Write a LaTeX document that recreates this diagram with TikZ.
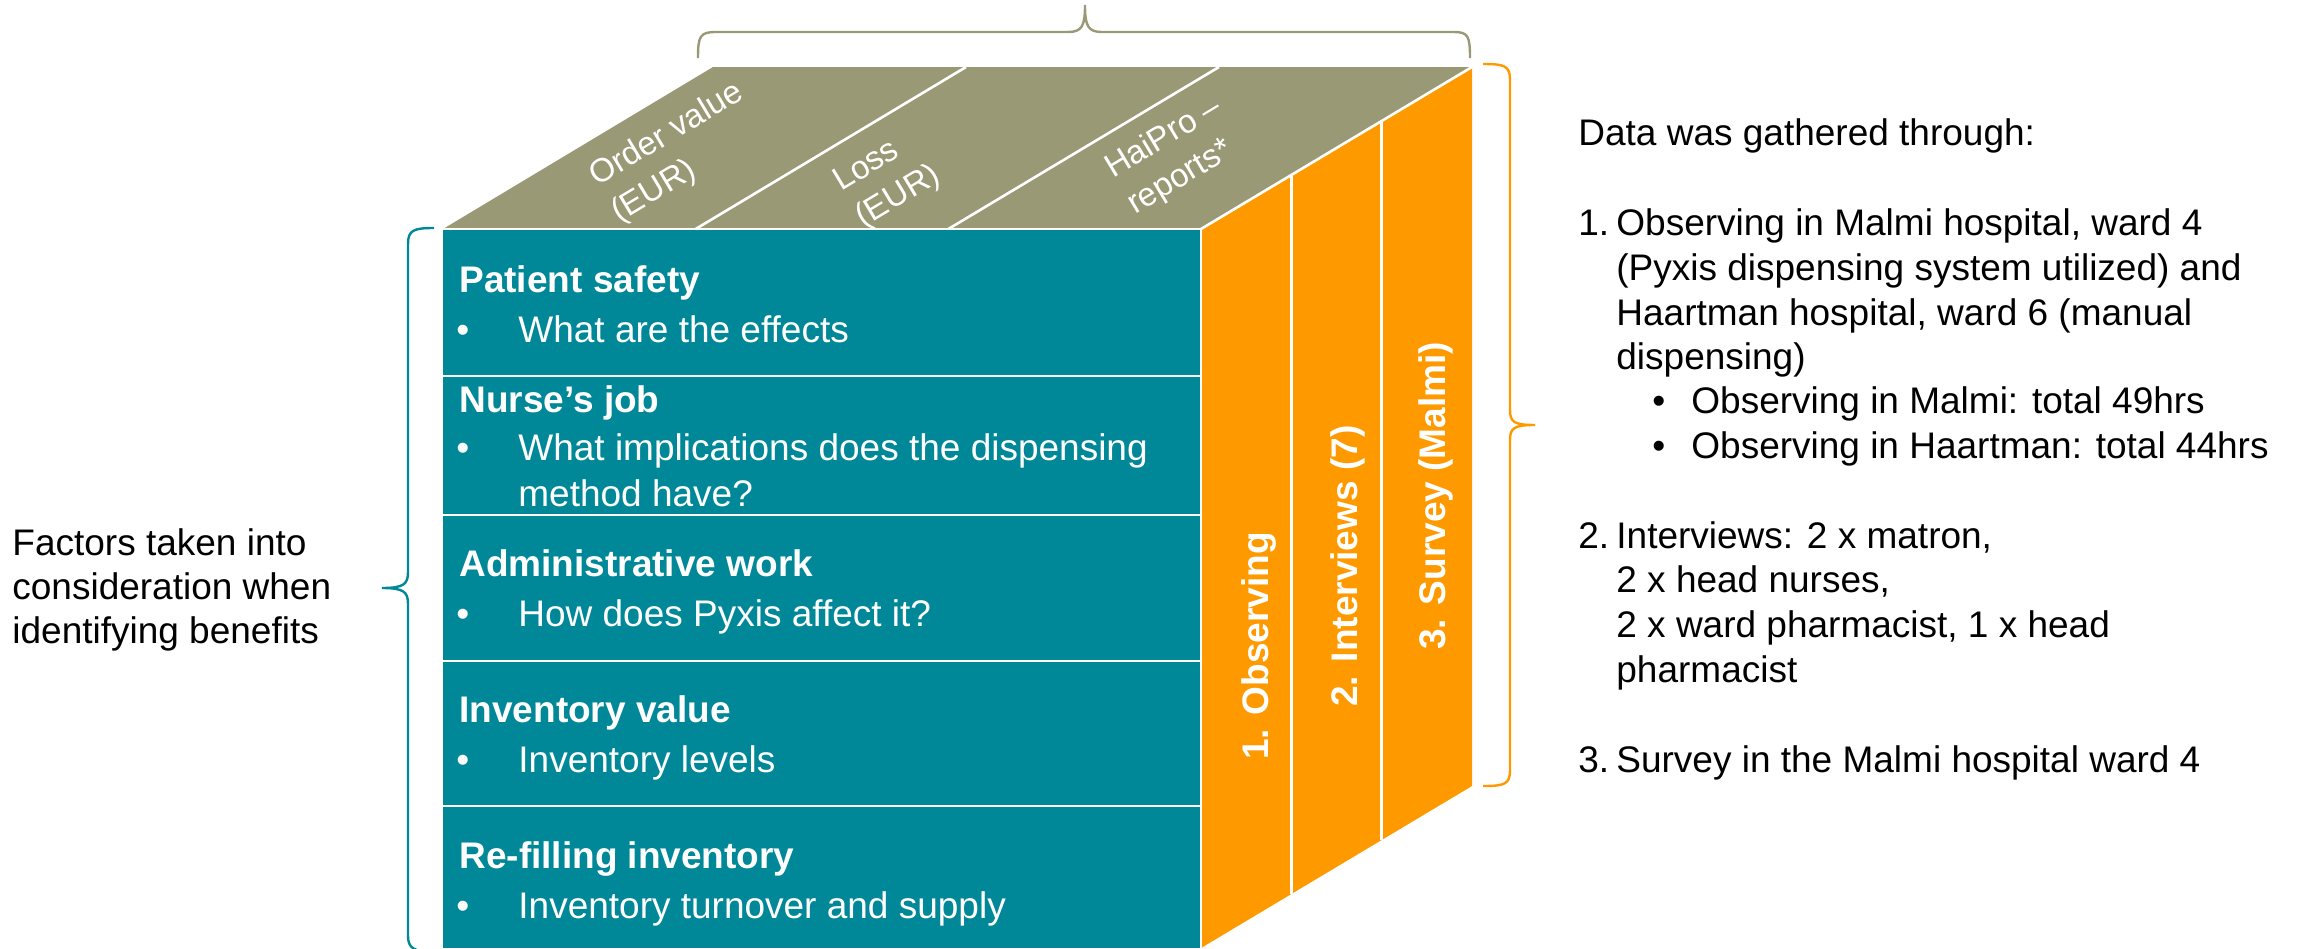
\documentclass[tikz,border=0pt]{standalone}
\usepackage{fontspec}
\setmainfont{Liberation Sans}
\usetikzlibrary{calc}
\definecolor{cubeteal}{RGB}{0,136,153}
\definecolor{cubeolive}{RGB}{153,153,118}
\definecolor{cubeorange}{RGB}{255,153,0}
\tikzset{
  sep/.style={white, line width=1.3pt},
  bracket/.style={line width=1.2pt},
  txt/.style={inner sep=0pt, anchor=base west, font=\fontsize{18.5}{22}\selectfont},
  facetxt/.style={txt, text=white},
  headtxt/.style={txt, text=white, font=\fontsize{18.5}{22}\selectfont\bfseries},
  toptxt/.style={inner sep=0pt, anchor=base west, text=white, rotate=31, font=\fontsize{16.5}{19}\selectfont},
  sidetxt/.style={inner sep=0pt, anchor=base west, text=white, rotate=90, font=\fontsize{18.5}{22}\selectfont\bfseries},
  blacktxt/.style={txt, text=black}
}
\begin{document}
\begin{tikzpicture}[x=0.5pt,y=-0.5pt]
\useasboundingbox (0,0) rectangle (2297,948);
\clip (0,0) rectangle (2297,948);
% cube corners
\coordinate (FTL) at (443,229);
\coordinate (FTR) at (1201,229);
\coordinate (FBL) at (443,948);
\coordinate (FBR) at (1201,948);
\coordinate (BTL) at (713,67);
\coordinate (BTR) at (1472,67);
\coordinate (BBR) at (1472,786);
% faces
\fill[cubeteal] (FTL) rectangle (FBR);
\fill[cubeolive] (FTL) -- (FTR) -- (BTR) -- (BTL) -- cycle;
\fill[cubeorange] (FTR) -- (BTR) -- (BBR) -- (FBR) -- cycle;
% separators
\draw[sep] (FTL) -- (FTR) -- (FBR);
\draw[sep] (FTR) -- (BTR);
\foreach \yy in {376,515,661,806} \draw[sep] (443,\yy) -- (1201,\yy);
\draw[sep] ($(FTL)!1/3!(FTR)$) -- ($(BTL)!1/3!(BTR)$);
\draw[sep] ($(FTL)!2/3!(FTR)$) -- ($(BTL)!2/3!(BTR)$);
\draw[sep] ($(FTR)!1/3!(BTR)$) -- ($(FBR)!1/3!(BBR)$);
\draw[sep] ($(FTR)!2/3!(BTR)$) -- ($(FBR)!2/3!(BBR)$);
% top labels
\node[toptxt] (ov1) at (597,187) {Order value};
\node[toptxt] (ov2) at (619,223) {(EUR)};
\node[toptxt] (ls1) at (841,192) {Loss};
\node[toptxt] (ls2) at (863,228) {(EUR)};
\node[toptxt] (hp1) at (1113,179) {HaiPro –};
\node[toptxt] (hp2) at (1135,215) {reports*};
% side labels
\node[sidetxt] (s1) at (1268,760) {1. Observing};
\node[sidetxt] (s2) at (1357,707) {2. Interviews (7)};
\node[sidetxt] (s3) at (1445,650) {3. Survey (Malmi)};
% front rows
\node[headtxt] (h1) at (459,292) {Patient safety};
\node[facetxt] (b1) at (456,342) {•};
\node[facetxt] (t1) at (518,342) {What are the effects};
\node[headtxt] (h2) at (459,412) {Nurse’s job};
\node[facetxt] (b2) at (456,460) {•};
\node[facetxt] (t2) at (518,460) {What implications does the dispensing};
\node[facetxt] (t2b) at (518,506) {method have?};
\node[headtxt] (h3) at (459,576) {Administrative work};
\node[facetxt] (b3) at (456,626) {•};
\node[facetxt] (t3) at (518,626) {How does Pyxis affect it?};
\node[headtxt] (h4) at (459,722) {Inventory value};
\node[facetxt] (b4) at (456,772) {•};
\node[facetxt] (t4) at (518,772) {Inventory levels};
\node[headtxt] (h5) at (459,868) {Re-filling inventory};
\node[facetxt] (b5) at (456,918) {•};
\node[facetxt] (t5) at (518,918) {Inventory turnover and supply};
% braces
\draw[bracket, cubeolive] (698,58) .. controls (698,36) and (700,32) .. (716,32) -- (1068,32) .. controls (1082,32) and (1085,26) .. (1085,5) .. controls (1085,26) and (1088,32) .. (1102,32) -- (1454,32) .. controls (1468,32) and (1470,36) .. (1470,58);
\draw[bracket, cubeteal] (434,228) .. controls (414,228) and (408,230) .. (408,244) -- (408,572) .. controls (408,584) and (404,588) .. (382,588) .. controls (404,588) and (408,592) .. (408,604) -- (408,936) .. controls (408,948) and (414,952) .. (434,952);
\draw[bracket, cubeorange] (1483,64) .. controls (1505,64) and (1510,66) .. (1510,80) -- (1510,410) .. controls (1510,422) and (1514,425) .. (1535,425) .. controls (1514,425) and (1510,428) .. (1510,440) -- (1510,770) .. controls (1510,784) and (1505,786) .. (1483,786);
% left text
\node[blacktxt] (l1) at (12,555) {Factors taken into};
\node[blacktxt] (l2) at (12,599) {consideration when};
\node[blacktxt] (l3) at (12,643) {identifying benefits};
% right text
\node[blacktxt] (r0) at (1578,145) {Data was gathered through:};
\node[blacktxt] (r1n) at (1578,235) {1.};
\node[blacktxt] (r1a) at (1616,235) {Observing in Malmi hospital, ward 4};
\node[blacktxt] (r1b) at (1616,280) {(Pyxis dispensing system utilized) and};
\node[blacktxt] (r1c) at (1616,325) {Haartman hospital, ward 6 (manual};
\node[blacktxt] (r1d) at (1616,369) {dispensing)};
\node[blacktxt] (r1e) at (1652,413) {•};
\node[blacktxt] (r1f) at (1691,413) {Observing in Malmi: total 49hrs};
\node[blacktxt] (r1g) at (1652,458) {•};
\node[blacktxt] (r1h) at (1691,458) {Observing in Haartman: total 44hrs};
\node[blacktxt] (r2n) at (1578,548) {2.};
\node[blacktxt] (r2a) at (1616,548) {Interviews: 2 x matron,};
\node[blacktxt] (r2b) at (1616,592) {2 x head nurses,};
\node[blacktxt] (r2c) at (1616,637) {2 x ward pharmacist, 1 x head};
\node[blacktxt] (r2d) at (1616,682) {pharmacist};
\node[blacktxt] (r3n) at (1578,772) {3.};
\node[blacktxt] (r3a) at (1616,772) {Survey in the Malmi hospital ward 4};
\end{tikzpicture}
\end{document}
